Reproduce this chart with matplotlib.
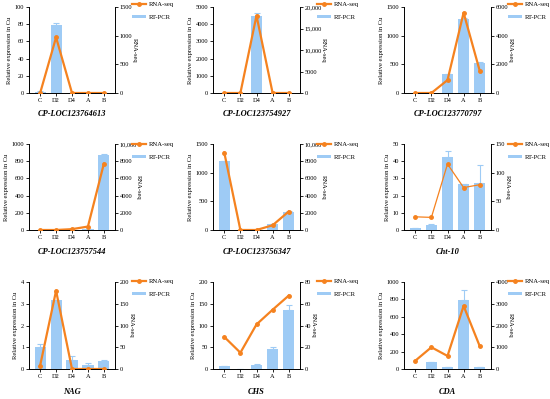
import matplotlib
matplotlib.use("Agg")
import matplotlib.pyplot as plt
from matplotlib.lines import Line2D
from matplotlib.patches import Patch
from matplotlib.ticker import FuncFormatter

plt.rcParams['font.family'] = ['Liberation Serif', 'DejaVu Serif']

stages = ["C", "D2", "D4", "A", "B"]

titles = ["CP-LOC123764613", "CP-LOC123754927", "CP-LOC123770797",
          "CP-LOC123757544", "CP-LOC123756347", "Cht-10",
          "NAG", "CHS", "CDA"]

rt_pcr = [
    [1.5, 79, 0.5, 0.3, 0.3],
    [0, 0, 4500, 0, 0],
    [0, 0, 330, 1290, 520],
    [0, 0, 5, 15, 870],
    [1200, 0, 0, 100, 320],
    [1.0, 3.0, 42.5, 26.5, 27.5],
    [1.0, 3.15, 0.4, 0.2, 0.38],
    [7, 1, 10, 46, 135],
    [0, 75, 20, 790, 25],
]
rt_err = [
    [0.3, 2.5, 0, 0, 0],
    [0, 0, 150, 0, 0],
    [0, 0, 10, 20, 15],
    [0, 0, 0, 2, 10],
    [10, 0, 0, 5, 10],
    [0.3, 0.3, 3.5, 0, 10.5],
    [0.15, 0, 0.22, 0.08, 0.03],
    [0.5, 0, 0.5, 5, 13],
    [0, 2, 3, 115, 3],
]
rna_seq = [
    [0, 970, 0, 0, 0],
    [0, 0, 18000, 0, 0],
    [0, 0, 900, 5600, 1550],
    [0, 0, 100, 400, 7700],
    [9000, 0, 0, 550, 2150],
    [23, 22, 115, 74, 79],
    [8, 180, 0, 0, 0],
    [29.5, 15, 41, 54.5, 67.5],
    [380, 1000, 600, 2900, 1050],
]
left_max = [100, 5000, 1500, 1000, 1500, 50, 4, 200, 1000]
left_step = [20, 1000, 500, 200, 500, 10, 1, 50, 200]
right_max = [1500, 20000, 6000, 10000, 10000, 150, 200, 80, 4000]
right_step = [500, 5000, 2000, 2000, 2000, 50, 50, 20, 1000]

W, H = 550, 399
fig = plt.figure(figsize=(5.5, 3.99), dpi=100)

cols = [(29, 115), (213, 300), (404, 491)]
rows = [(7, 93), (144, 230), (282, 369)]
title_y = [114, 252, 392]
legend_top = [1, 141, 278]

bar_color = "#9ECBF5"
line_color = "#F5821F"

def fmt(v, pos):
    v = int(round(v))
    if v >= 10000:
        return f"{v:,}"
    return str(v)

for i in range(9):
    r, c = divmod(i, 3)
    xl, xr = cols[c]
    yt, yb = rows[r]
    ax = fig.add_axes([xl / W, 1 - yb / H, (xr - xl) / W, (yb - yt) / H])
    x = list(range(len(stages)))
    ax.bar(x, rt_pcr[i], width=0.7, color=bar_color, zorder=1)
    ax.errorbar(x, rt_pcr[i], yerr=[[0] * 5, rt_err[i]], fmt="none",
                ecolor=bar_color, elinewidth=0.8, capsize=2, capthick=0.8, zorder=1)
    ax.set_xlim(-0.7, 4.7)
    ax.set_ylim(0, left_max[i])
    ax.set_yticks([k * left_step[i] for k in range(int(round(left_max[i] / left_step[i])) + 1)])
    ax.yaxis.set_major_formatter(FuncFormatter(fmt))
    ax.set_xticks(x)
    ax.set_xticklabels(stages)
    ax.tick_params(labelsize=4.6, length=2, width=0.6, pad=1.5)
    ax.set_ylabel("Relative expression in Cu", fontsize=4.7, labelpad=2)
    for s in ["left", "bottom", "right"]:
        ax.spines[s].set_linewidth(0.6)
    ax.spines["top"].set_visible(False)

    ax2 = ax.twinx()
    lw = 0.9 if i == 5 else 1.6
    ax2.plot(x, rna_seq[i], color=line_color, lw=lw, marker="o", ms=2.5, zorder=3)
    ax2.set_ylim(0, right_max[i])
    ax2.set_yticks([k * right_step[i] for k in range(int(round(right_max[i] / right_step[i])) + 1)])
    ax2.yaxis.set_major_formatter(FuncFormatter(fmt))
    ax2.tick_params(labelsize=4.6, length=2, width=0.6, pad=1.5)
    ax2.set_ylabel("RNA-seq", fontsize=4.7, rotation=270, labelpad=3)
    for s in ["left", "bottom", "right"]:
        ax2.spines[s].set_linewidth(0.6)
    ax2.spines["top"].set_visible(False)

    ax.set_zorder(0)
    ax2.set_zorder(1)

    fig.text((xl + xr) / 2 / W, 1 - title_y[r] / H, titles[i], ha="center", va="center",
             fontsize=6, fontweight="bold", fontstyle="italic")

    handles = [Line2D([0], [0], color=line_color, lw=1.6, marker="o", ms=2.5),
               Patch(facecolor=bar_color, edgecolor="none")]
    fig.legend(handles, ["RNA-seq", "RT-PCR"], loc="upper left",
               bbox_to_anchor=((xr + 16) / W, 1 - legend_top[r] / H), fontsize=4.8,
               frameon=False, handlelength=2.0, handleheight=0.4,
               labelspacing=1.1, borderaxespad=0, borderpad=0.2, handletextpad=0.5)

fig.savefig("out.png", dpi=100)
